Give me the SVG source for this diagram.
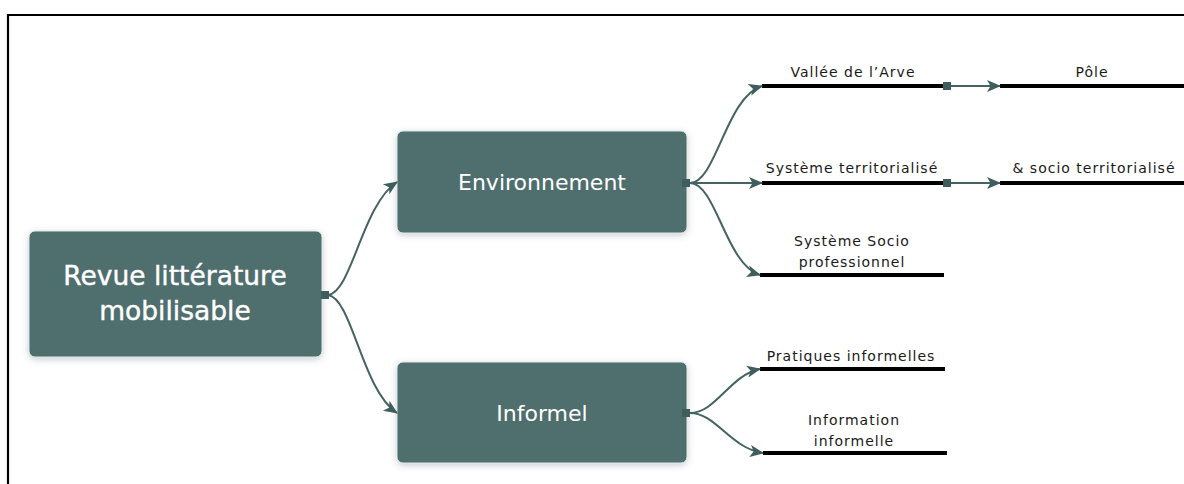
<svg xmlns="http://www.w3.org/2000/svg" width="1184" height="484" viewBox="0 0 1184 484">
  <style>
    .node { fill: #4f6e6e; stroke: #dfe6e6; stroke-width: 1; filter: url(#sh); }
    .ntext { fill: #ffffff; font-family: "DejaVu Sans", sans-serif; text-anchor: middle; }
    .conn { fill: none; stroke: #456363; stroke-width: 2; }
    .bar { stroke: #000000; stroke-width: 4; }
    .lbl { fill: #1a1a1a; font-family: "DejaVu Sans", sans-serif; font-size: 14px; letter-spacing: 1px; text-anchor: middle; }
    .sq { fill: #3f5d5d; }
  </style>
  <defs>
    <filter id="sh" x="-10%" y="-20%" width="120%" height="150%">
      <feDropShadow dx="0" dy="2" stdDeviation="3" flood-color="#506070" flood-opacity="0.3"/>
    </filter>
    <marker id="arr" markerUnits="userSpaceOnUse" markerWidth="14" markerHeight="14" viewBox="0 0 14 14" refX="13" refY="7" orient="auto">
      <path d="M0,1 L14,7 L0,13 L3.5,7 Z" fill="#3f5d5d"/>
    </marker>
  </defs>

  <!-- frame -->
  <path d="M8,484 V15 H1184" fill="none" stroke="#000" stroke-width="2.2"/>

  <g id="root">
    <rect class="node" x="29" y="231" width="293" height="126" rx="6"/>
    <text class="ntext" x="175" y="285" font-size="26.5" stroke="#ffffff" stroke-width="0.4">Revue littérature</text>
    <text class="ntext" x="175" y="320" font-size="26.5" stroke="#ffffff" stroke-width="0.4">mobilisable</text>
  </g>

  <g id="environnement">
    <rect class="node" x="397" y="131" width="290" height="102" rx="6"/>
    <text class="ntext" x="542" y="190" font-size="22">Environnement</text>
  </g>

  <g id="informel">
    <rect class="node" x="397" y="362" width="290" height="101" rx="6"/>
    <text class="ntext" x="542" y="421" font-size="22">Informel</text>
  </g>

  <g id="vallee">
    <line class="bar" x1="762" y1="86" x2="943" y2="86"/>
    <text class="lbl" x="853" y="77">Vallée de l’Arve</text>
  </g>

  <g id="pole">
    <line class="bar" x1="1000" y1="86" x2="1184" y2="86"/>
    <text class="lbl" x="1092" y="77">Pôle</text>
  </g>

  <g id="systeme-territorialise">
    <line class="bar" x1="762" y1="183" x2="943" y2="183"/>
    <text class="lbl" x="852" y="173">Système territorialisé</text>
  </g>

  <g id="socio-territorialise">
    <line class="bar" x1="1000" y1="183" x2="1184" y2="183"/>
    <text class="lbl" x="1094" y="173">&amp; socio territorialisé</text>
  </g>

  <g id="systeme-socio">
    <line class="bar" x1="760" y1="275" x2="944" y2="275"/>
    <text class="lbl" x="852" y="246">Système Socio</text>
    <text class="lbl" x="852" y="267">professionnel</text>
  </g>

  <g id="pratiques">
    <line class="bar" x1="760" y1="369" x2="945" y2="369"/>
    <text class="lbl" x="851" y="361">Pratiques informelles</text>
  </g>

  <g id="information">
    <line class="bar" x1="763" y1="453" x2="947" y2="453"/>
    <text class="lbl" x="854" y="425">Information</text>
    <text class="lbl" x="854" y="446">informelle</text>
  </g>

  <g id="connectors">
    <path class="conn" d="M328,295 C352,292 362,205 397,182" marker-end="url(#arr)"/>
    <path class="conn" d="M328,295 C352,298 362,390 397,413" marker-end="url(#arr)"/>
    <path class="conn" d="M690,183 C716,183 726,97 762,86" marker-end="url(#arr)"/>
    <path class="conn" d="M690,183 L762,183" marker-end="url(#arr)"/>
    <path class="conn" d="M690,183 C716,183 726,265 760,275" marker-end="url(#arr)"/>
    <path class="conn" d="M690,413 C716,413 730,375 760,369" marker-end="url(#arr)"/>
    <path class="conn" d="M690,413 C716,413 730,448 763,453" marker-end="url(#arr)"/>
    <path class="conn" d="M951,86 L1000,86" marker-end="url(#arr)"/>
    <path class="conn" d="M951,183 L1000,183" marker-end="url(#arr)"/>
    <rect class="sq" x="321" y="291" width="8" height="8"/>
    <rect class="sq" x="682" y="179" width="8" height="8"/>
    <rect class="sq" x="682" y="409" width="8" height="8"/>
    <rect class="sq" x="943" y="82" width="8" height="8"/>
    <rect class="sq" x="943" y="179" width="8" height="8"/>
  </g>
</svg>
